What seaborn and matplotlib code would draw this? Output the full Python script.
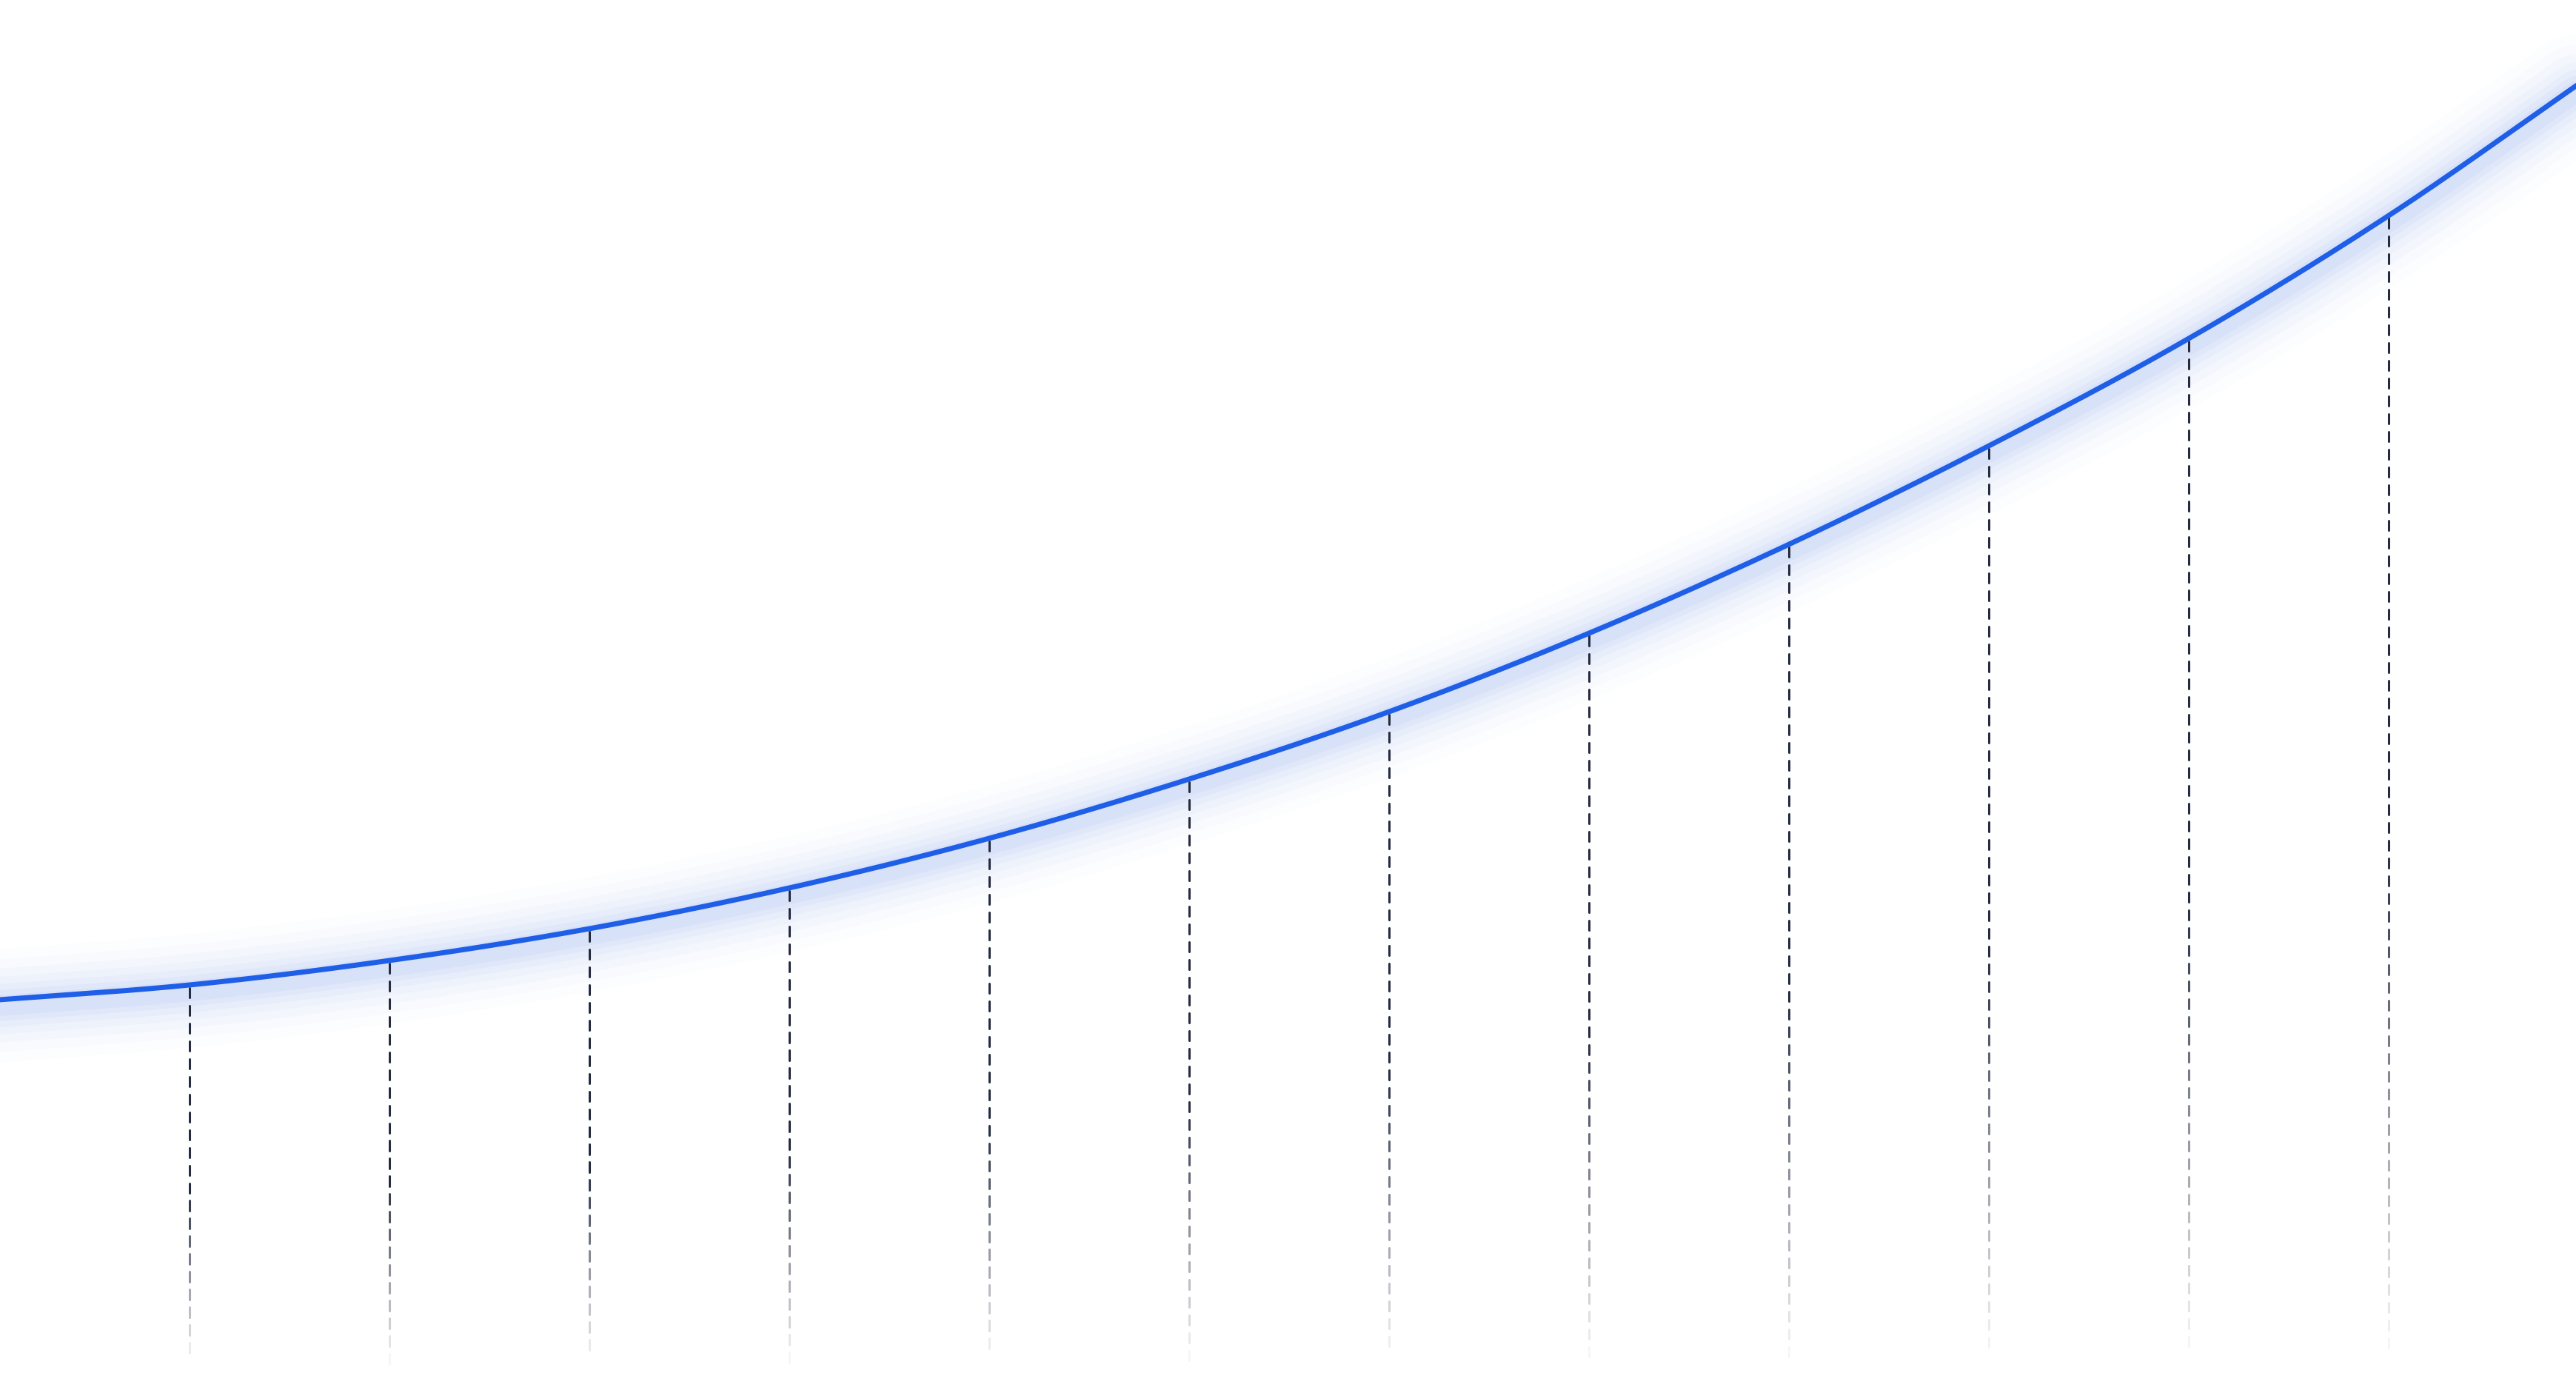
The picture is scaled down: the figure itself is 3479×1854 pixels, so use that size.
import numpy as np
import pandas as pd
import seaborn as sns
import matplotlib.pyplot as plt
from matplotlib.collections import LineCollection
from matplotlib.colors import to_rgba

# curve values (index 0..13)
steps = [0, 1, 2, 3, 4, 5, 6, 7, 8, 9, 10, 11, 12, 13]
values = [50.3, 52.4, 55.7, 60.0, 65.5, 72.2, 80.2, 89.3, 99.9, 111.9, 125.2, 139.7, 156.3, 175.0]
# steps that get a dashed drop line
marked = [1, 2, 3, 4, 5, 6, 7, 8, 9, 10, 11, 12]

LINE_COLOR = "#1f5fe8"
DROP_COLOR = "#262c40"


def smooth(xs, ys, n=40):
    # catmull-rom through the points, only for drawing a round curve
    xs = np.asarray(xs, float)
    ys = np.asarray(ys, float)
    px = np.concatenate([[2 * xs[0] - xs[1]], xs, [2 * xs[-1] - xs[-2]]])
    py = np.concatenate([[2 * ys[0] - ys[1]], ys, [2 * ys[-1] - ys[-2]]])
    outx, outy = [], []
    t = np.linspace(0, 1, n, endpoint=False)
    for i in range(1, len(px) - 2):
        for p, out in ((px, outx), (py, outy)):
            p0, p1, p2, p3 = p[i - 1], p[i], p[i + 1], p[i + 2]
            out.extend(0.5 * (2 * p1 + (-p0 + p2) * t
                              + (2 * p0 - 5 * p1 + 4 * p2 - p3) * t ** 2
                              + (-p0 + 3 * p1 - 3 * p2 + p3) * t ** 3))
    outx.append(xs[-1])
    outy.append(ys[-1])
    return np.array(outx), np.array(outy)


def drop_segments(x, top, bottom, period=2.4, dash=1.35, fade_from=0.55):
    segs = []
    cols = []
    length = top - bottom
    y = top - 0.35
    while y - dash > bottom:
        segs.append([(x, y), (x, y - dash)])
        t = (top - (y - dash / 2)) / length
        if t < fade_from:
            a = 1.0
        else:
            a = max(0.04, 1 - (t - fade_from) / (1 - fade_from))
        cols.append(to_rgba(DROP_COLOR, a))
        y -= period
    return segs, cols


def run():
    sx, sy = smooth(steps, values)
    df = pd.DataFrame({"step": sx, "value": sy})
    sns.set_style("white")

    fig = plt.figure(figsize=(34.8, 18.54), dpi=100)
    ax = fig.add_axes([0, 0, 1, 1])

    # soft blue glow under the line
    for w, a in [(110, 0.012), (90, 0.015), (72, 0.02), (56, 0.025), (42, 0.03), (30, 0.035), (20, 0.04)]:
        ax.plot(df["step"], df["value"] - 0.8, color=LINE_COLOR, lw=w,
                alpha=a, solid_capstyle="round", solid_joinstyle="round")

    # dashed drop lines with a fade at the bottom
    lookup = dict(zip(steps, values))
    all_segs = []
    all_cols = []
    for s in marked:
        segs, cols = drop_segments(s, lookup[s], 1.2)
        all_segs += segs
        all_cols += cols
    ax.add_collection(LineCollection(all_segs, colors=all_cols, linewidths=2.2,
                                     capstyle="round"))

    sns.lineplot(data=df, x="step", y="value", ax=ax, color=LINE_COLOR,
                 linewidth=5.0, sort=False, estimator=None)

    ax.set_xlim(0.052, 12.94)
    ax.set_ylim(0, 185.4)
    ax.axis("off")
    fig.savefig("out.png", dpi=100, facecolor="white")


if __name__ == '__main__':
    run()
